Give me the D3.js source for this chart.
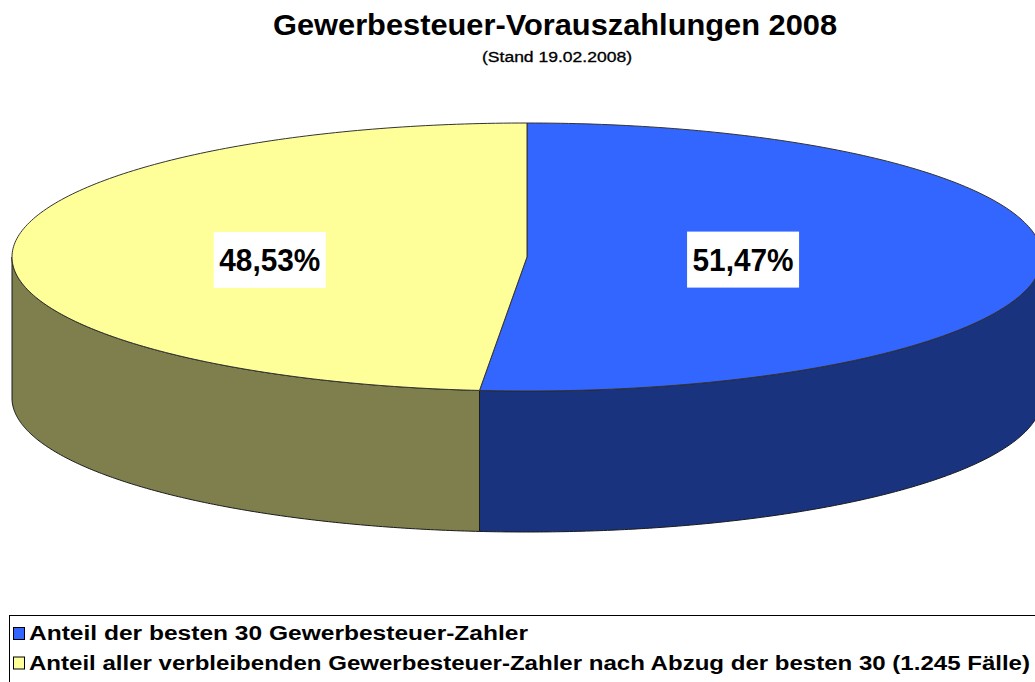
<!DOCTYPE html>
<html>
<head>
<meta charset="utf-8">
<script src="https://cdn.jsdelivr.net/npm/d3@7"></script>
<style>
  html, body { margin: 0; padding: 0; background: #fff; }
  svg { display: block; font-family: "Liberation Sans", Arial, sans-serif; }
</style>
</head>
<body>
<svg id="chart" width="1035" height="682"></svg>
<script>
// ---- data ----
const titleText = "Gewerbesteuer-Vorauszahlungen 2008";
const subtitleText = "(Stand 19.02.2008)";
const categories = [
  "Anteil der besten 30 Gewerbesteuer-Zahler",
  "Anteil aller verbleibenden Gewerbesteuer-Zahler nach Abzug der besten 30 (1.245 Fälle)"
];
const values = [51.47, 48.53];
const valueLabels = ["51,47%", "48,53%"];
const topColors = ["#3366FF", "#FFFF99"];
const sideColors = ["#1A337F", "#7F7F4D"];

// ---- layout ----
const W = 1035, H = 682;
const cx = 527, cy = 257, rx = 515, ry = 134, depth = 141;
const labelR = [0.42, 0.50];
const labelDy = [0, 6];

const svg = d3.select("#chart");

// scales mapping unit circle to projected ellipse
const xs = d3.scaleLinear().domain([-1, 1]).range([cx - rx, cx + rx]);
const ys = d3.scaleLinear().domain([-1, 1]).range([cy - ry, cy + ry]);
const px = a => xs(Math.sin(a));
const py = a => ys(-Math.cos(a));

const arcs = d3.pie().sort(null).value(d => d)(values);

const N = 200;
function arcPoints(a0, a1, dy) {
  return d3.range(N + 1).map(i => {
    const a = a0 + (a1 - a0) * i / N;
    return [px(a), py(a) + dy];
  });
}
const line = d3.line();

// side walls (front half only)
const gWalls = svg.append("g");
arcs.forEach((d, i) => {
  const a0 = Math.max(d.startAngle, Math.PI / 2);
  const a1 = Math.min(d.endAngle, 3 * Math.PI / 2);
  if (a1 <= a0) return;
  const pts = arcPoints(a0, a1, 0).concat(arcPoints(a1, a0, depth));
  gWalls.append("path")
    .attr("d", line(pts) + "Z")
    .attr("fill", sideColors[i])
    .attr("stroke", "#1a1a1a")
    .attr("stroke-width", 1)
    .attr("stroke-linejoin", "round");
});

// top faces
const gTop = svg.append("g");
arcs.forEach((d, i) => {
  const pts = [[cx, cy]].concat(arcPoints(d.startAngle, d.endAngle, 0));
  gTop.append("path")
    .attr("d", line(pts) + "Z")
    .attr("fill", topColors[i])
    .attr("stroke", "#333")
    .attr("stroke-width", 1)
    .attr("stroke-linejoin", "round");
});

// value labels
const gLab = svg.append("g");
arcs.forEach((d, i) => {
  const m = (d.startAngle + d.endAngle) / 2;
  const lx = xs(labelR[i] * Math.sin(m));
  const ly = ys(-labelR[i] * Math.cos(m)) + labelDy[i];
  gLab.append("rect")
    .attr("x", lx - 56).attr("y", ly - 28)
    .attr("width", 112).attr("height", 56)
    .attr("fill", "#fff");
  gLab.append("text")
    .attr("x", lx).attr("y", ly + 11)
    .attr("text-anchor", "middle")
    .attr("font-size", 31).attr("font-weight", "bold")
    .attr("textLength", 101).attr("lengthAdjust", "spacingAndGlyphs")
    .attr("fill", "#000")
    .text(valueLabels[i]);
});

// title
svg.append("text")
  .attr("x", 273).attr("y", 35)
  .attr("font-size", 30).attr("font-weight", "bold")
  .attr("textLength", 564).attr("lengthAdjust", "spacingAndGlyphs")
  .text(titleText);
svg.append("text")
  .attr("x", 482).attr("y", 62)
  .attr("font-size", 14)
  .attr("stroke", "#000").attr("stroke-width", 0.3)
  .attr("textLength", 150).attr("lengthAdjust", "spacingAndGlyphs")
  .text(subtitleText);

// legend
const gLeg = svg.append("g");
gLeg.append("rect")
  .attr("x", 9.5).attr("y", 615.5)
  .attr("width", 1100).attr("height", 120)
  .attr("fill", "#fff").attr("stroke", "#000").attr("stroke-width", 1);
const legTextLen = [499, 1001];
categories.forEach((c, i) => {
  const base = 640 + i * 29.5;
  gLeg.append("rect")
    .attr("x", 13.5).attr("y", base - 12.5)
    .attr("width", 11).attr("height", 12)
    .attr("fill", topColors[i]).attr("stroke", "#000").attr("stroke-width", 1);
  gLeg.append("text")
    .attr("x", 29).attr("y", base)
    .attr("font-size", 20).attr("font-weight", "bold")
    .attr("textLength", legTextLen[i]).attr("lengthAdjust", "spacingAndGlyphs")
    .text(c);
});
</script>
</body>
</html>
